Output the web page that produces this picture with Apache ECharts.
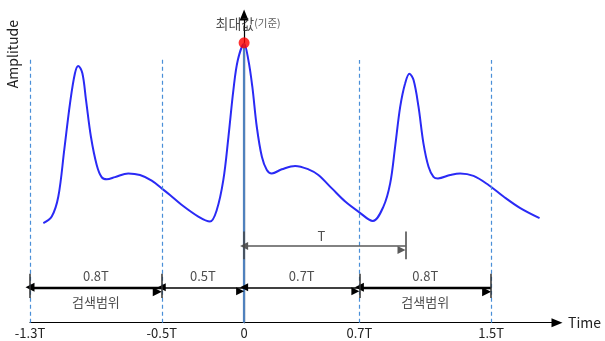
<!DOCTYPE html>
<html>
<head>
<meta charset="utf-8">
<script src="https://cdn.jsdelivr.net/npm/echarts@6/dist/echarts.min.js"></script>
<style>html,body{margin:0;padding:0;background:#fff}#c{width:605px;height:341px}</style>
</head>
<body>
<div id="c"></div>
<script>
// ---- data (time in units of T, amplitude arbitrary) ----
const curveT = [-1.219,-1.168,-1.128,-1.092,-1.057,-1.027,-1.007,-0.982,-0.960,-0.930,-0.895,-0.865,-0.834,-0.784,-0.703,-0.632,-0.561,-0.500,-0.450,-0.378,-0.278,-0.207,-0.166,-0.126,-0.095,-0.065,-0.038,0,0.026,0.050,0.077,0.108,0.138,0.168,0.229,0.310,0.391,0.451,0.533,0.614,0.694,0.782,0.846,0.887,0.917,0.948,0.978,1.004,1.029,1.059,1.089,1.120,1.150,1.177,1.252,1.312,1.393,1.484,1.575,1.677,1.794];
const curveA = [31.8,33.9,40.3,55.2,70.1,79.7,82.0,79.7,71.2,59.4,50.4,46.5,45.8,46.5,47.7,47.2,45.4,42.9,40.8,37.6,33.9,32.3,36.0,45.6,59.4,74.3,83.9,89.0,83.9,75.4,62.6,53.0,48.8,47.7,49.0,50.1,49.0,47.2,42.9,38.7,35.5,32.5,37.1,44.5,56.2,69.0,76.5,79.5,77.5,69.0,57.3,49.8,46.6,46.1,47.2,47.7,46.9,44.0,40.3,36.6,33.4];
const tickValues = [-1.3,-0.5,0,0.7,1.5];
const tickLabels = ['-1.3T','-0.5T','0','0.7T','1.5T'];
const dashX = [-1.3,-0.5,0.7,1.5];
const dashTop = [84.9,84.9,83.9,83.9];
const spanFrom = [-1.3,-0.5,0,0.7];
const spanTo = [-0.5,0,0.7,1.5];
const spanLabels = ['0.8T','0.5T','0.7T','0.8T'];
const spanSearch = [true,false,false,true];
const searchText = '검색범위';
const spanLevel = 11.3, spanLabelLevel = 15.0, searchLevel = 6.6, barLow = 7.9, barHigh = 15.6;
const periodFrom = 0, periodTo = 0.98, periodLevel = 24.5, periodLabelLevel = 27.8, periodBarLow = 20.3, periodBarHigh = 29.1;
const peak = [0, 89.4];

const FONT = '"Noto Sans CJK KR", "Noto Sans", sans-serif';
const chart = echarts.init(document.getElementById('c'), null, {renderer:'canvas'});

const curveData = curveT.map((t,i)=>[t,curveA[i]]);

const dashLines = dashX.map((x,i)=>[{coord:[x,0]},{coord:[x,dashTop[i]]}]);
const thick = [], thin = [], bars = [];
spanFrom.forEach((a,i)=>{
  const seg = [{coord:[a,spanLevel]},{coord:[spanTo[i],spanLevel]}];
  (spanSearch[i]?thick:thin).push(seg);
});
dashX.forEach(x=>bars.push([{coord:[x,barLow]},{coord:[x,barHigh]}]));
const periodBars = [[{coord:[periodFrom,periodBarLow]},{coord:[periodFrom,periodBarHigh]}],[{coord:[periodTo,periodBarLow]},{coord:[periodTo,periodBarHigh]}]];

const textPts = [];
spanFrom.forEach((a,i)=>{
  const mid=(a+spanTo[i])/2;
  textPts.push({value:[mid,spanLabelLevel],name:spanLabels[i]});
  if(spanSearch[i]) textPts.push({value:[mid,searchLevel],name:searchText});
});
textPts.push({value:[(periodFrom+periodTo)/2-0.02,periodLabelLevel],name:'T'});

const ml = (data, style, symbol, size)=>({silent:true,animation:false,
  symbol:symbol||'none',symbolSize:size||8,symbolOffset:[0,(size||8)/2],
  label:{show:false},emphasis:{disabled:true},
  lineStyle:Object.assign({type:'solid'},style),data:data});

chart.setOption({
  animation:false,
  grid:{left:30,right:48,top:15,bottom:18.3,containLabel:false},
  xAxis:{type:'value',min:-1.3,max:1.9,splitLine:{show:false},axisTick:{show:false},
    axisLine:{show:true,onZero:false,symbol:['none','triangle'],symbolSize:[9,11],lineStyle:{color:'#000',width:1.2}},
    axisLabel:{customValues:tickValues,fontFamily:FONT,fontSize:13,color:'#222',margin:4,
      formatter:v=>{const i=tickValues.findIndex(t=>Math.abs(t-v)<1e-6);return i>=0?tickLabels[i]:'';}},
    name:'Time',nameLocation:'end',nameGap:11,nameTextStyle:{fontFamily:FONT,fontSize:14,color:'#222'}},
  yAxis:{type:'value',min:0,max:98.3,splitLine:{show:false},axisTick:{show:false},axisLabel:{show:false},
    axisLine:{show:true,symbol:['none','triangle'],symbolSize:[9,11],lineStyle:{color:'#000',width:1.2}}},
  graphic:[{type:'text',left:6,top:20,rotation:Math.PI/2,style:{text:'Amplitude',font:'14px '+FONT,fill:'#222'}}],
  series:[
    {type:'line',data:[],markLine:ml(dashLines,{color:'#4a8fd8',width:1.2,type:[4,3]})},
    {type:'line',data:curveData,smooth:0.35,showSymbol:false,lineStyle:{color:'#2a2af5',width:2},silent:true,z:3},
    {type:'line',data:[],z:4,markLine:ml([[{coord:[0,0]},{coord:[peak[0],peak[1]]}]],{color:'#4f81bd',width:2.2})},
    {type:'line',data:[],z:5,markLine:ml(thick,{color:'#000',width:2.4},'triangle',9)},
    {type:'line',data:[],z:5,markLine:ml(thin,{color:'#000',width:1.5},'triangle',8)},
    {type:'line',data:[],z:5,markLine:ml(bars,{color:'#333',width:1.5})},
    {type:'line',data:[],z:5,markLine:ml([[{coord:[periodFrom,periodLevel]},{coord:[periodTo,periodLevel]}]],{color:'#595959',width:1.5},'triangle',8)},
    {type:'line',data:[],z:5,markLine:ml(periodBars,{color:'#444',width:1.5})},
    {type:'scatter',data:textPts,symbolSize:0,silent:true,z:6,
      label:{show:true,position:'inside',formatter:p=>p.name,fontFamily:FONT,fontSize:13,color:'#222'}},
    {type:'scatter',data:[peak],symbolSize:11,itemStyle:{color:'#ff0000'},silent:true,z:7,
      label:{show:true,position:'top',distance:5,offset:[4,0],formatter:'{a|최대값}{b|(기준)}',
        rich:{a:{fontFamily:FONT,fontSize:14,color:'#222',height:18,verticalAlign:'bottom'},b:{fontFamily:FONT,fontSize:10.5,color:'#333',height:18,verticalAlign:'bottom',padding:[3,0,0,0]}}}}
  ]
});
</script>
</body>
</html>
